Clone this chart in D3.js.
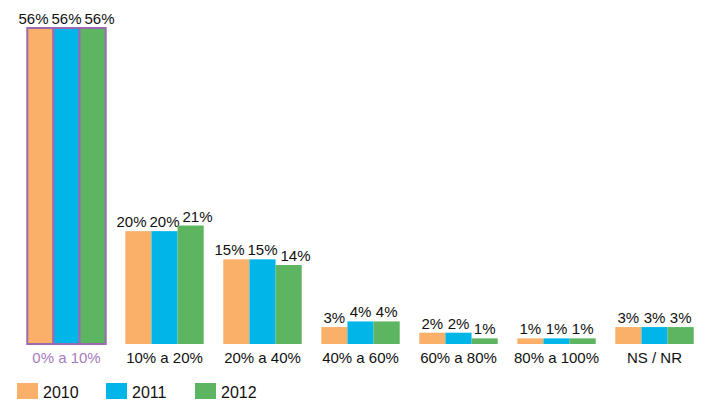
<!DOCTYPE html>
<html>
<head>
<meta charset="utf-8">
<script src="https://cdn.jsdelivr.net/npm/d3@7"></script>
<style>
  body { margin: 0; background: #fff; }
  text { font-family: "Liberation Sans", Arial, sans-serif; }
</style>
</head>
<body>
<div id="chart"></div>
<script>
const categories = ["0% a 10%", "10% a 20%", "20% a 40%", "40% a 60%", "60% a 80%", "80% a 100%", "NS / NR"];
const years = ["2010", "2011", "2012"];
const values2010 = [56, 20, 15, 3, 2, 1, 3];
const values2011 = [56, 20, 15, 4, 2, 1, 3];
const values2012 = [56, 21, 14, 4, 1, 1, 3];

const colors = ["#FBB06A", "#00B6E8", "#5DB461"]; // orange, blue, green
const highlight = "#9B6AB0";

const W = 708, H = 420;
const baseY = 344;

const series = [values2010, values2011, values2012];

const svg = d3.select("#chart")
  .append("svg")
  .attr("width", W)
  .attr("height", H);

const x0 = d3.scaleBand().domain(categories).range([17.5, 703.5]).paddingInner(0.2).paddingOuter(0.1);
const x1 = d3.scaleBand().domain(years).range([0, x0.bandwidth()]);
const y = d3.scaleLinear().domain([0, 56]).range([baseY, 28]);

const groups = svg.selectAll("g.group")
  .data(categories)
  .enter()
  .append("g")
  .attr("class", "group")
  .attr("transform", d => `translate(${x0(d)},0)`);

groups.each(function (cat, ci) {
  const g = d3.select(this);
  const labels = [];
  years.forEach((yr, si) => {
    const v = series[si][ci];
    g.append("rect")
      .attr("x", x1(yr))
      .attr("y", y(v))
      .attr("width", x1.bandwidth())
      .attr("height", baseY - y(v))
      .attr("fill", colors[si])
      .attr("stroke", ci === 0 ? highlight : "none")
      .attr("stroke-width", ci === 0 ? 2 : 0);

    labels.push(g.append("text")
      .attr("x", x1(yr) + x1.bandwidth() / 2)
      .attr("y", y(v) - 4)
      .attr("text-anchor", "middle")
      .style("font-size", "15px")
      .attr("fill", "#111")
      .text(v + "%"));
  });

  // push outer labels apart when they would collide
  const wMax = d3.max(labels, t => t.node().getComputedTextLength());
  const shift = Math.max(0, wMax + 3 - x1.bandwidth());
  labels[0].attr("x", +labels[0].attr("x") - shift);
  labels[2].attr("x", +labels[2].attr("x") + shift);

  g.append("text")
    .attr("x", x0.bandwidth() / 2)
    .attr("y", 363)
    .attr("text-anchor", "middle")
    .style("font-size", "15px")
    .attr("fill", ci === 0 ? "#A67CC0" : "#111")
    .text(cat);
});

// legend
const legendX = [17, 106, 195];
const legend = svg.selectAll("g.legend")
  .data(years)
  .enter()
  .append("g")
  .attr("class", "legend")
  .attr("transform", (d, i) => `translate(${legendX[i]}, 383)`);

legend.append("rect")
  .attr("width", 21)
  .attr("height", 16)
  .attr("fill", (d, i) => colors[i]);

legend.append("text")
  .attr("x", 26)
  .attr("y", 15)
  .style("font-size", "16px")
  .attr("fill", "#111")
  .text(d => d);
</script>
</body>
</html>
